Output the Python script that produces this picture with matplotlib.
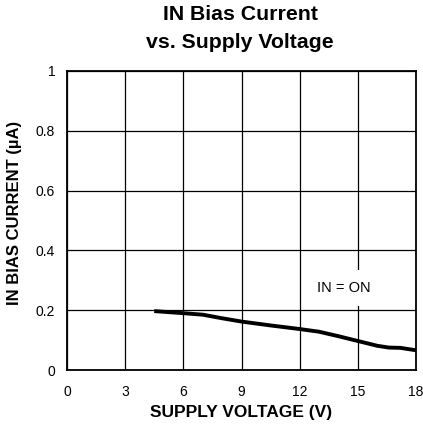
import matplotlib.pyplot as plt

plt.rcParams['font.family'] = ['Liberation Sans', 'DejaVu Sans']

# supply voltage (V) vs IN bias current (uA)
voltage = [4.5, 6.0, 7.0, 8.0, 9.0, 10.5, 12.0, 13.0, 14.0, 15.0, 16.0, 16.6, 17.2, 18.0]
current = [0.197, 0.190, 0.185, 0.173, 0.162, 0.149, 0.137, 0.128, 0.113, 0.097, 0.081, 0.075, 0.074, 0.066]

xticks = [0, 3, 6, 9, 12, 15, 18]
yticks = [0, 0.2, 0.4, 0.6, 0.8, 1]
ylabels = ["0", "0.2", "0.4", "0.6", "0.8", "1"]

W, H = 423, 426
fig = plt.figure(figsize=(W / 100, H / 100), dpi=100)
ax = fig.add_axes([67/W, 1 - 370/H, 349/W, 299/H])

ax.plot(voltage, current, color="black", linewidth=2.8, solid_capstyle="butt")

ax.set_xlim(0, 18)
ax.set_ylim(0, 1)
ax.set_xticks(xticks)
ax.set_yticks(yticks)
ax.set_yticklabels(ylabels)
ax.tick_params(axis="y", length=0, labelsize=10, pad=8.5)
ax.tick_params(axis="x", length=0, labelsize=10, pad=11)
ax.grid(True, color="black", linewidth=0.9)
ax.set_axisbelow(True)
for s in ax.spines.values():
    s.set_linewidth(1.3)

ax.text(14.26, 0.274, "IN = ON", fontsize=10.5, ha="center", va="center",
        bbox=dict(facecolor="white", edgecolor="none", pad=8))

fig.text(241.5/W, 1 - 412/H, "SUPPLY VOLTAGE (V)", fontsize=12.5, fontweight="bold",
         ha="center", va="center")
fig.text(15/W, 1 - 213/H, "IN BIAS CURRENT (\u00b5A)", fontsize=12, fontweight="bold",
         ha="center", va="center", rotation=90)
fig.text(240/W, 1 - 15/H, "IN Bias Current", fontsize=15.3, fontweight="bold",
         ha="center", va="center")
fig.text(240/W, 1 - 43/H, "vs. Supply Voltage", fontsize=15.3, fontweight="bold",
         ha="center", va="center")

fig.savefig("out.png", dpi=100)
